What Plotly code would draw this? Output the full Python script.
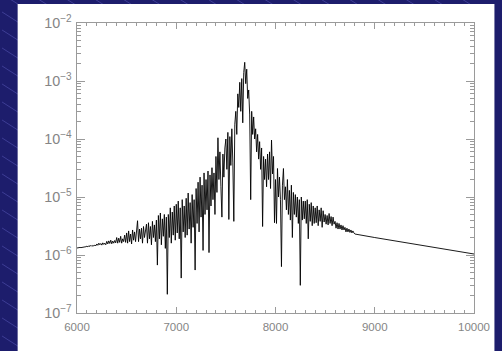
import numpy as np
import plotly.graph_objects as go

# Spectrum sampled every 10 Angstrom from 6000 to 8790 (flux in units of 1e-6)
noisy_wavelength = np.arange(6000, 8800, 10)
noisy_flux_micro = [
    1.32, 1.34, 1.33, 1.35, 1.34, 1.36, 1.35, 1.37, 1.38, 1.39,
    1.42, 1.38, 1.45, 1.40, 1.47, 1.41, 1.46, 1.43, 1.49, 1.44,
    1.55, 1.47, 1.60, 1.50, 1.58, 1.48, 1.62, 1.52, 1.60, 1.50,
    1.72, 1.55, 1.75, 1.58, 1.80, 1.56, 1.74, 1.60, 1.78, 1.62,
    2.0, 1.6, 1.95, 1.65, 2.1, 1.6, 1.9, 1.7, 2.2, 1.65,
    2.4, 1.6, 2.6, 1.7, 2.3, 1.55, 2.7, 1.8, 2.5, 1.7,
    3.0, 3.9, 1.7, 2.8, 1.9, 2.9, 1.6, 3.1, 2.0, 2.8,
    3.4, 1.6, 3.6, 1.9, 3.1, 1.5, 3.8, 2.0, 3.3, 1.7,
    4.0, 0.67, 4.8, 1.9, 5.3, 1.5, 4.2, 2.1, 5.0, 1.3,
    4.5, 0.21, 5.0, 2.0, 6.5, 1.6, 5.5, 2.2, 7.0, 1.8,
    7.5, 2.4, 8.5, 1.9, 6.5, 0.40, 9.0, 2.5, 7.0, 2.0,
    9.5, 2.2, 11.7, 2.8, 8.0, 1.6, 11.0, 3.0, 9.0, 0.55,
    14, 3.5, 18, 2.5, 22, 4.5, 16, 1.2, 26, 5.0,
    20, 6.0, 28, 1.1, 24, 7.0, 32, 9.0, 26, 5.0,
    50, 12, 105, 20, 60, 15, 4.5, 55, 22, 70,
    100, 30, 130, 4.1, 110, 35, 150, 40, 3.8, 180,
    300, 120, 600, 350, 950, 300, 1100, 190, 1400, 2100,
    900, 1600, 500, 700, 260, 9.0, 300, 120, 240, 100,
    150, 60, 120, 45, 90, 30, 70, 3.1, 50, 20,
    45, 15, 55, 20, 60, 14, 96, 25, 50, 3.6,
    20, 3.5, 31, 10, 22, 9.0, 0.63, 16, 31, 9.0,
    15, 6.0, 20, 5.0, 13, 4.0, 16, 2.0, 12, 5.0,
    11, 4.5, 10, 3.5, 9.0, 0.30, 10, 4.0, 8.5, 4.2,
    8.5, 3.5, 9.0, 1.9, 7.5, 3.8, 8.0, 3.2, 7.0, 3.5,
    6.5, 3.6, 7.0, 3.2, 6.0, 3.8, 6.5, 3.0, 5.8, 3.7,
    5.0, 3.4, 4.8, 3.3, 5.2, 3.5, 4.6, 3.2, 4.5, 3.4,
    3.8, 2.9, 3.6, 2.8, 3.5, 2.8, 3.3, 2.7, 3.2, 2.7,
    3.0, 2.5, 2.9, 2.5, 2.8, 2.45, 2.7, 2.4, 2.6, 2.4,
]

# Smooth red wing of the profile
tail_wavelength = [8800, 9000, 9250, 9500, 9750, 10000]
tail_flux_micro = [2.3, 2.0, 1.7, 1.45, 1.23, 1.04]

x_ticks = [6000, 7000, 8000, 9000, 10000]

wavelength = list(noisy_wavelength) + tail_wavelength
flux = [v * 1e-6 for v in noisy_flux_micro + tail_flux_micro]

W, H = 502, 351
ML, MR, MT, MB = 77, 17, 23, 38
PW, PH = W - ML - MR, H - MT - MB


def px(xp):
    return (xp - ML) / PW


def py(yp):
    return (H - MB - yp) / PH


fig = go.Figure()
fig.add_trace(go.Scatter(
    x=wavelength, y=flux, mode="lines",
    line=dict(color="#000000", width=0.9),
    hoverinfo="skip", showlegend=False,
))

# Striped navy backdrop and the white panel that holds the plot
shapes = []
for c in range(-330, 370, 18):
    shapes.append(dict(
        type="line", xref="paper", yref="paper", layer="below",
        x0=px(0), y0=py(c), x1=px(W), y1=py(c + 0.62 * W),
        line=dict(color="#3e3e96", width=1),
    ))
shapes.append(dict(
    type="rect", xref="paper", yref="paper", layer="below",
    x0=px(16), y0=py(4), x1=px(W + 4), y1=py(H + 4),
    fillcolor="#ffffff", line=dict(width=0),
))

axis_color = "#9a9a9a"
font = dict(family="Liberation Sans, Arial, sans-serif", size=11.5, color="#858585")

fig.update_layout(
    width=W, height=H,
    margin=dict(l=ML, r=MR, t=MT, b=MB, pad=0),
    paper_bgcolor="#1d1d6c",
    plot_bgcolor="#ffffff",
    shapes=shapes,
    font=font,
    xaxis=dict(
        range=[6000, 10000], tickvals=x_ticks, ticktext=[str(t) for t in x_ticks],
        ticks="inside", ticklen=6, tickcolor=axis_color, tickwidth=1,
        showline=True, linecolor=axis_color, linewidth=1, mirror="ticks",
        showgrid=False, zeroline=False, ticklabelstandoff=3,
        minor=dict(dtick=100, ticks="inside", ticklen=3, tickcolor=axis_color, showgrid=False),
        tickfont=font,
    ),
    yaxis=dict(
        type="log", range=[-7, -2], dtick=1, exponentformat="power",
        ticks="inside", ticklen=8, tickcolor=axis_color, tickwidth=1,
        showline=True, linecolor=axis_color, linewidth=1, mirror="ticks",
        showgrid=False, zeroline=False, ticklabelstandoff=2,
        minor=dict(dtick="D1", ticks="inside", ticklen=4, tickcolor=axis_color, showgrid=False),
        tickfont=font,
    ),
)

fig.write_html("out.html")
